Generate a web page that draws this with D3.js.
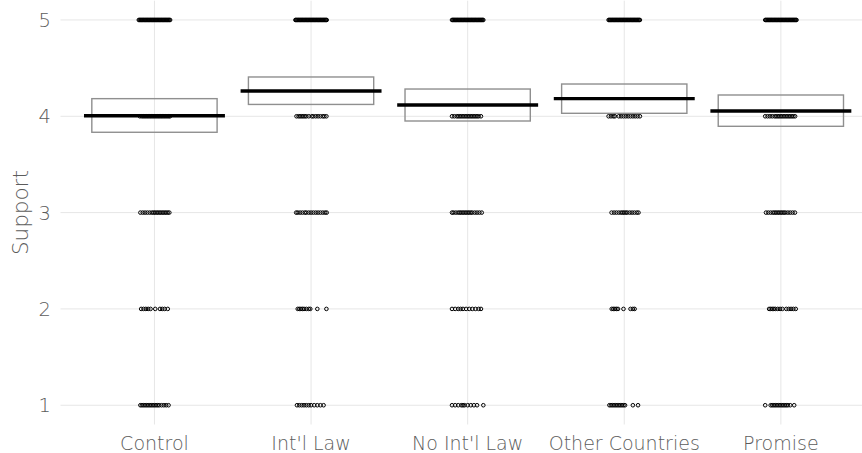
<!DOCTYPE html>
<html>
<head>
<meta charset="utf-8">
<script src="https://cdn.jsdelivr.net/npm/d3@7"></script>
<style>
  html, body { margin: 0; padding: 0; background: #fff; }
  svg { display: block; }
  text { font-family: "DejaVu Sans", sans-serif; font-weight: 200; }
</style>
</head>
<body>
<svg id="chart" width="862" height="453"></svg>
<script>
// ---- data ----
const categories = ["Control", "Int'l Law", "No Int'l Law", "Other Countries", "Promise"];
const means  = [4.006, 4.263, 4.117, 4.183, 4.055];
const ciLow  = [3.834, 4.123, 3.951, 4.031, 3.896];
const ciHigh = [4.183, 4.408, 4.283, 4.335, 4.221];
const yTicks = [1, 2, 3, 4, 5];

// horizontal jitter offsets (category units) of the responses at each level
const jitterControl = {
  5: [-0.1,-0.095,-0.09,-0.085,-0.08,-0.075,-0.07,-0.065,-0.06,-0.055,-0.05,-0.045,-0.04,-0.035,-0.03,-0.025,-0.02,-0.015,-0.01,-0.005,0,0.005,0.01,0.015,0.02,0.025,0.03,0.035,0.04,0.045,0.05,0.055,0.06,0.065,0.07,0.075,0.08,0.085,0.09,0.095,0.1],
  4: [-0.093,-0.08,-0.07,-0.06,-0.05,-0.04,-0.03,-0.02,-0.01,0,0.01,0.02,0.03,0.04,0.05,0.06,0.07,0.08,0.09,0.099],
  3: [-0.09,-0.075,-0.06,-0.045,-0.03,-0.015,-0.005,0.005,0.015,0.025,0.035,0.045,0.055,0.065,0.075,0.085,0.095],
  2: [-0.085,-0.07,-0.055,-0.04,-0.025,0.005,0.035,0.05,0.065,0.085],
  1: [-0.09,-0.08,-0.07,-0.06,-0.05,-0.04,-0.03,-0.02,-0.01,0,0.01,0.02,0.03,0.045,0.06,0.075,0.09]
};
const jitterIntlLaw = {
  5: [-0.1,-0.095,-0.09,-0.085,-0.08,-0.075,-0.07,-0.065,-0.06,-0.055,-0.05,-0.045,-0.04,-0.035,-0.03,-0.025,-0.02,-0.015,-0.01,-0.005,0,0.005,0.01,0.015,0.02,0.025,0.03,0.035,0.04,0.045,0.05,0.055,0.06,0.065,0.07,0.075,0.08,0.085,0.09,0.095,0.1],
  4: [-0.093,-0.08,-0.07,-0.06,-0.05,-0.04,-0.03,-0.015,0.005,0.015,0.03,0.045,0.06,0.075,0.085,0.098],
  3: [-0.095,-0.085,-0.07,-0.055,-0.04,-0.03,-0.015,0,0.015,0.03,0.045,0.06,0.075,0.09,0.1],
  2: [-0.085,-0.075,-0.065,-0.055,-0.045,-0.03,-0.015,-0.005,0.04,0.098],
  1: [-0.09,-0.075,-0.06,-0.045,-0.03,-0.015,0,0.02,0.04,0.06,0.08]
};
const jitterNoIntlLaw = {
  5: [-0.1,-0.095,-0.09,-0.085,-0.08,-0.075,-0.07,-0.065,-0.06,-0.055,-0.05,-0.045,-0.04,-0.035,-0.03,-0.025,-0.02,-0.015,-0.01,-0.005,0,0.005,0.01,0.015,0.02,0.025,0.03,0.035,0.04,0.045,0.05,0.055,0.06,0.065,0.07,0.075,0.08,0.085,0.09,0.095,0.1],
  4: [-0.1,-0.085,-0.07,-0.06,-0.05,-0.04,-0.03,-0.02,-0.01,0,0.01,0.02,0.03,0.04,0.05,0.06,0.07,0.085],
  3: [-0.1,-0.09,-0.075,-0.06,-0.05,-0.04,-0.03,-0.02,-0.01,0,0.01,0.02,0.03,0.045,0.06,0.075,0.09],
  2: [-0.1,-0.08,-0.06,-0.045,-0.03,-0.01,0.01,0.03,0.05,0.07,0.085],
  1: [-0.1,-0.08,-0.06,-0.04,-0.03,-0.02,0,0.02,0.04,0.06,0.1]
};
const jitterOtherCountries = {
  5: [-0.1,-0.095,-0.09,-0.085,-0.08,-0.075,-0.07,-0.065,-0.06,-0.055,-0.05,-0.045,-0.04,-0.035,-0.03,-0.025,-0.02,-0.015,-0.01,-0.005,0,0.005,0.01,0.015,0.02,0.025,0.03,0.035,0.04,0.045,0.05,0.055,0.06,0.065,0.07,0.075,0.08,0.085,0.09,0.095,0.1],
  4: [-0.1,-0.085,-0.07,-0.06,-0.035,-0.02,-0.005,0.01,0.025,0.04,0.055,0.07,0.085,0.1],
  3: [-0.081,-0.065,-0.05,-0.035,-0.02,-0.01,0,0.01,0.02,0.035,0.05,0.065,0.08,0.091],
  2: [-0.08,-0.07,-0.06,-0.05,-0.04,-0.005,0.04,0.055,0.066],
  1: [-0.095,-0.085,-0.075,-0.065,-0.055,-0.045,-0.035,-0.025,-0.015,-0.005,0.005,0.055,0.088]
};
const jitterPromise = {
  5: [-0.1,-0.095,-0.09,-0.085,-0.08,-0.075,-0.07,-0.065,-0.06,-0.055,-0.05,-0.045,-0.04,-0.035,-0.03,-0.025,-0.02,-0.015,-0.01,-0.005,0,0.005,0.01,0.015,0.02,0.025,0.03,0.035,0.04,0.045,0.05,0.055,0.06,0.065,0.07,0.075,0.08,0.085,0.09,0.095,0.1],
  4: [-0.1,-0.085,-0.07,-0.055,-0.04,-0.03,-0.02,-0.01,0,0.01,0.02,0.03,0.04,0.05,0.06,0.07,0.08,0.091],
  3: [-0.095,-0.08,-0.065,-0.05,-0.04,-0.03,-0.02,-0.01,0,0.01,0.02,0.03,0.045,0.06,0.075,0.09],
  2: [-0.075,-0.065,-0.055,-0.045,-0.035,-0.02,-0.005,0.01,0.035,0.05,0.065,0.08,0.095],
  1: [-0.1,-0.065,-0.055,-0.045,-0.035,-0.025,-0.015,-0.005,0.005,0.015,0.025,0.035,0.045,0.06,0.085]
};
const jitters = [jitterControl, jitterIntlLaw, jitterNoIntlLaw, jitterOtherCountries, jitterPromise];

// ---- layout ----
const svg = d3.select("#chart");
const plotLeft = 60.5, unit = 156.6;
const x = d3.scaleLinear().domain([0.4, 5.6]).range([plotLeft, plotLeft + 5.2 * unit]);
const y = d3.scaleLinear().domain([0.8, 5.2]).range([424.5, 0.7]);
const gridColor = "#e6e6e6";
const textColor = "#5c5c5c";

// grid
const g = svg.append("g");
g.selectAll("line.hgrid").data(yTicks).enter().append("line")
  .attr("x1", x(0.4)).attr("x2", x(5.6))
  .attr("y1", d => y(d)).attr("y2", d => y(d))
  .attr("stroke", gridColor).attr("stroke-width", 1);
g.selectAll("line.vgrid").data(categories).enter().append("line")
  .attr("x1", (d, i) => x(i + 1)).attr("x2", (d, i) => x(i + 1))
  .attr("y1", y(0.8)).attr("y2", y(5.2))
  .attr("stroke", gridColor).attr("stroke-width", 1);

// boxes (confidence interval)
svg.append("g").selectAll("rect").data(categories).enter().append("rect")
  .attr("x", (d, i) => x(i + 1 - 0.4))
  .attr("width", x(1.4) - x(0.6))
  .attr("y", (d, i) => y(ciHigh[i]))
  .attr("height", (d, i) => y(ciLow[i]) - y(ciHigh[i]))
  .attr("fill", "none").attr("stroke", "#8f8f8f").attr("stroke-width", 1.4);

// points
const pts = [];
jitters.forEach((jt, i) => {
  yTicks.forEach(level => {
    (jt[level] || []).forEach(off => pts.push({ cx: i + 1 + off, v: level }));
  });
});
svg.append("g").selectAll("circle").data(pts).enter().append("circle")
  .attr("cx", d => x(d.cx)).attr("cy", d => y(d.v)).attr("r", 1.8)
  .attr("fill", "none").attr("stroke", "#000").attr("stroke-width", 1);

// mean lines
svg.append("g").selectAll("line").data(categories).enter().append("line")
  .attr("x1", (d, i) => x(i + 1 - 0.45)).attr("x2", (d, i) => x(i + 1 + 0.45))
  .attr("y1", (d, i) => y(means[i])).attr("y2", (d, i) => y(means[i]))
  .attr("stroke", "#000").attr("stroke-width", 3.4);

// axes text
svg.append("g").selectAll("text").data(yTicks).enter().append("text")
  .attr("x", 51).attr("y", d => y(d)).attr("dy", "0.36em")
  .attr("text-anchor", "end").attr("fill", textColor).attr("font-size", 19.5)
  .text(d => d);
svg.append("g").selectAll("text").data(categories).enter().append("text")
  .attr("x", (d, i) => x(i + 1)).attr("y", 450)
  .attr("text-anchor", "middle").attr("fill", textColor).attr("font-size", 19)
  .text(d => d);
svg.append("text")
  .attr("transform", `translate(28, ${y(3)}) rotate(-90)`)
  .attr("text-anchor", "middle").attr("fill", textColor).attr("font-size", 21.5)
  .text("Support");
</script>
</body>
</html>
